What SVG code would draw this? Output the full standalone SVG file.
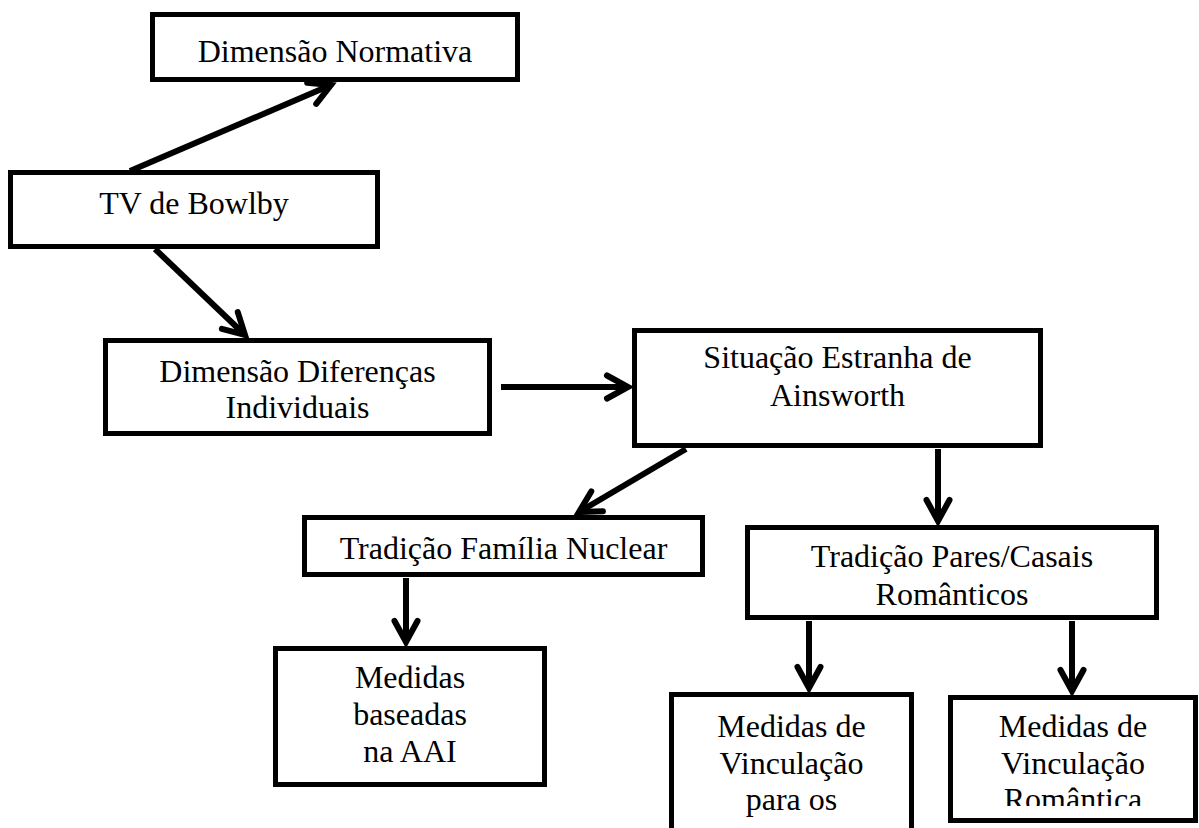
<svg xmlns="http://www.w3.org/2000/svg" width="1199" height="828" viewBox="0 0 1199 828">
  <style>
    .box { fill: #ffffff; stroke: #000000; stroke-width: 5; }
    .lbl { font-family: "Liberation Serif", "Times New Roman", serif; font-size: 32px; fill: #000000; text-anchor: middle; }
    .edge { fill: none; stroke: #000000; stroke-width: 6; marker-end: url(#chev); }
  </style>
  <defs>
    <!-- open chevron arrowhead, tip at the end of the line -->
    <marker id="chev" markerUnits="userSpaceOnUse" viewBox="-24 -14 28 28" refX="0" refY="0" markerWidth="28" markerHeight="28" orient="auto" overflow="visible">
      <path d="M-21,-11.5 L0,0 L-21,11.5" fill="none" stroke="#000000" stroke-width="6" stroke-linecap="round" stroke-linejoin="miter"/>
    </marker>
    <clipPath id="clipRom">
      <rect x="950" y="697" width="246" height="109"/>
    </clipPath>
  </defs>

  <rect width="1199" height="828" fill="#ffffff"/>

  <g id="connectors">
    <line class="edge" x1="130" y1="171" x2="331" y2="85"/>
    <line class="edge" x1="155" y1="249" x2="245" y2="335"/>
    <line class="edge" x1="501" y1="387" x2="628" y2="387"/>
    <line class="edge" x1="686" y1="449" x2="579" y2="512"/>
    <line class="edge" x1="938" y1="449" x2="938" y2="521"/>
    <line class="edge" x1="406" y1="578" x2="406" y2="642"/>
    <line class="edge" x1="809" y1="621" x2="809" y2="688"/>
    <line class="edge" x1="1072" y1="621" x2="1072" y2="691"/>
  </g>

  <g id="node-normativa">
    <rect class="box" x="152.5" y="14.5" width="365" height="65"/>
    <text class="lbl" x="335" y="62">Dimensão Normativa</text>
  </g>

  <g id="node-bowlby">
    <rect class="box" x="10.5" y="172.5" width="367" height="74"/>
    <text class="lbl" x="194" y="214">TV de Bowlby</text>
  </g>

  <g id="node-diferencas">
    <rect class="box" x="105.5" y="340.5" width="384" height="93"/>
    <text class="lbl" x="297.5" y="382">Dimensão Diferenças</text>
    <text class="lbl" x="297.5" y="418">Individuais</text>
  </g>

  <g id="node-ainsworth">
    <rect class="box" x="634.5" y="330.5" width="406" height="115"/>
    <text class="lbl" x="837.5" y="368">Situação Estranha de</text>
    <text class="lbl" x="837.5" y="406">Ainsworth</text>
  </g>

  <g id="node-familia">
    <rect class="box" x="304.5" y="517.5" width="398" height="57"/>
    <text class="lbl" x="503.5" y="559">Tradição Família Nuclear</text>
  </g>

  <g id="node-pares">
    <rect class="box" x="747.5" y="527.5" width="409" height="90"/>
    <text class="lbl" x="952" y="567">Tradição Pares/Casais</text>
    <text class="lbl" x="952" y="605">Românticos</text>
  </g>

  <g id="node-aai">
    <rect class="box" x="275.5" y="648.5" width="269" height="136"/>
    <text class="lbl" x="410" y="688">Medidas</text>
    <text class="lbl" x="410" y="725">baseadas</text>
    <text class="lbl" x="410" y="762">na AAI</text>
  </g>

  <g id="node-vinculacao-para">
    <rect class="box" x="671.5" y="694.5" width="240" height="150"/>
    <text class="lbl" x="791.5" y="737">Medidas de</text>
    <text class="lbl" x="791.5" y="774">Vinculação</text>
    <text class="lbl" x="791.5" y="810">para os</text>
  </g>

  <g id="node-vinculacao-romantica">
    <rect class="box" x="950.5" y="697.5" width="245" height="123"/>
    <text class="lbl" x="1073" y="737">Medidas de</text>
    <text class="lbl" x="1073" y="774">Vinculação</text>
    <text class="lbl" x="1073" y="810" clip-path="url(#clipRom)">Romântica</text>
  </g>
</svg>
